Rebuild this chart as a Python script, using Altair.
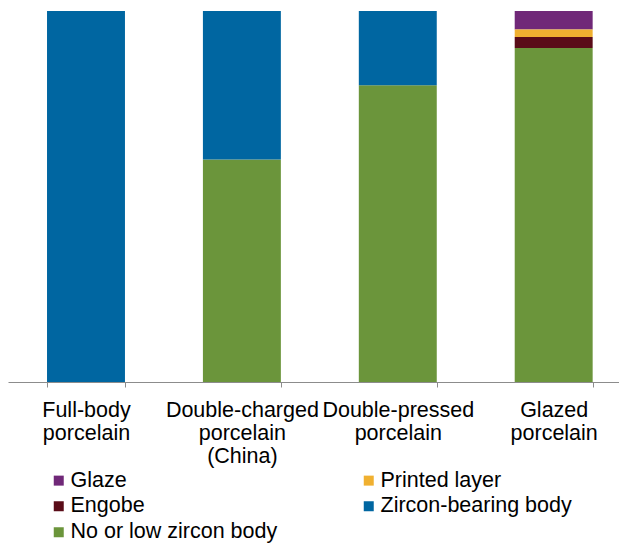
import altair as alt
import pandas as pd

categories = ["Full-body|porcelain", "Double-charged|porcelain|(China)",
              "Double-pressed|porcelain", "Glazed|porcelain"]
series = ["Glaze", "Engobe", "No or low zircon body", "Printed layer", "Zircon-bearing body"]
colors = ["#702878", "#5a0c18", "#6b953b", "#f0b030", "#0066a1"]
stack_rank = [4, 2, 0, 3, 1]

values = {
    "Glaze":                 [0, 0, 0, 5],
    "Printed layer":         [0, 0, 0, 2],
    "Engobe":                [0, 0, 0, 3],
    "Zircon-bearing body":   [100, 40, 20, 0],
    "No or low zircon body": [0, 60, 80, 90],
}

rows = []
for s, r in zip(series, stack_rank):
    for c, v in zip(categories, values[s]):
        rows.append({"cat": c, "series": s, "value": v, "rank": r})
df = pd.DataFrame(rows)

chart = alt.Chart(df).mark_bar().encode(
    x=alt.X("cat:N", sort=categories, title=None,
            scale=alt.Scale(paddingInner=0.5, paddingOuter=0.2096, align=0.597),
            axis=alt.Axis(labelAngle=0, labelExpr="split(datum.label, '|')",
                          labelFontSize=21.5, labelFont="Liberation Sans", labelColor="#000000",
                          labelLineHeight=23, labelPadding=12, tickBand="extent",
                          tickSize=5, domainColor="#8c8c8c", tickColor="#8c8c8c",
                          labelLimit=300)),
    y=alt.Y("value:Q", stack="zero", scale=alt.Scale(domain=[0, 100]), axis=None),
    color=alt.Color("series:N", scale=alt.Scale(domain=series, range=colors),
                    legend=alt.Legend(title=None, orient="none", legendX=40, legendY=458.5,
                                      columns=2, columnPadding=80, rowPadding=3,
                                      symbolType="square", symbolSize=100, symbolStrokeWidth=0,
                                      labelFontSize=21.5, labelFont="Liberation Sans",
                                      labelColor="#000000", labelOffset=1, padding=0,
                                      labelLimit=400)),
    order=alt.Order("rank:Q", sort="ascending"),
).properties(
    width=611, height=371,
    padding={"top": 3, "left": 0, "right": 0, "bottom": 0},
).configure_view(stroke=None)

chart.save("out.html", embed_options={"renderer": "svg", "actions": False})
